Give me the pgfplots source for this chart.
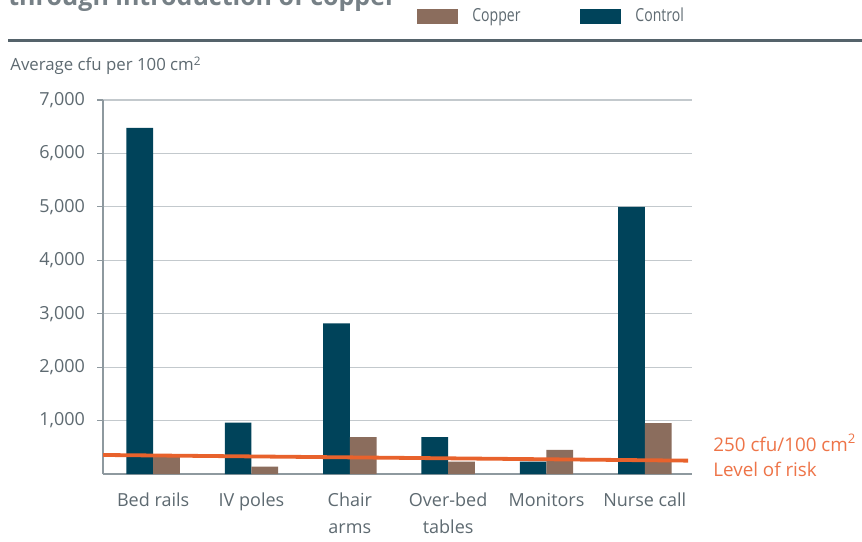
\documentclass[border=0pt]{standalone}
\usepackage{pgfplots}
\pgfplotsset{compat=1.18}
\usepackage{fontspec}
\setmainfont{Open Sans}
\newfontfamily\condfont{Open Sans}[FakeStretch=0.78]
\definecolor{ctrl}{HTML}{00435A}
\definecolor{copper}{HTML}{8B6D5D}
\definecolor{riskline}{HTML}{E8622C}
\definecolor{risktext}{HTML}{EE7448}
\definecolor{gridc}{HTML}{C3C9CD}
\definecolor{axisc}{HTML}{8E999F}
\definecolor{txt}{HTML}{5E6A71}
\definecolor{topline}{HTML}{55636B}
\begin{document}
\begin{tikzpicture}
\fill[white] (0pt,0pt) rectangle (431pt,270.5pt);
\useasboundingbox (0pt,0pt) rectangle (431pt,270.5pt);
\begin{scope}
\clip (0pt,0pt) rectangle (431pt,270.5pt);
\node[anchor=base west, inner sep=0pt, font=\bfseries\fontsize{12.5}{15}\selectfont, text=txt!85] at (4pt,267.5pt) {through introduction of copper};
\end{scope}
\draw[topline, line width=1.4pt] (4pt,250.15pt) -- (431pt,250.15pt);
\node[anchor=base west, inner sep=0pt, font=\fontsize{8.4}{10}\selectfont, text=txt] at (5pt,235pt) {Average cfu per 100 cm\textsuperscript{2}};
\node[anchor=base west, inner sep=0pt, font=\fontsize{9.4}{11}\selectfont, text=risktext] at (356.5pt,45pt) {250 cfu/100 cm\textsuperscript{2}};
\node[anchor=base west, inner sep=0pt, font=\fontsize{9.4}{11}\selectfont, text=risktext] at (356.5pt,32pt) {Level of risk};
\begin{axis}[
  at={(51.5pt,33.5pt)}, anchor=south west,
  scale only axis, width=294.5pt, height=187pt,
  ymin=0, ymax=7000, xmin=-0.51, xmax=5.48,
  axis x line*=bottom, axis y line*=left,
  axis line style={axisc, line width=0.6pt, -},
  ytick={1000,2000,...,7000},
  xtick={0,...,5},
  xticklabels={Bed rails, IV poles, {Chair\\arms}, {Over-bed\\tables}, Monitors, Nurse call},
  xtick style={draw=none},
  ytick style={axisc, line width=0.6pt},
  tick align=outside, major tick length=3pt,
  ymajorgrids, grid style={gridc, line width=0.6pt},
  scaled y ticks=false,
  /pgf/number format/1000 sep={,},
  /pgf/number format/assume math mode=true,
  ticklabel style={font=\fontsize{9}{13.5}\selectfont, text=txt},
  x tick label style={align=center, yshift=-3pt},
  y tick label style={xshift=-2.5pt},
  legend style={at={(axis description cs:0.533,1.223)}, anchor=west, draw=none, fill=none,
    inner sep=0pt, font=\condfont\fontsize{9}{10}\selectfont, text=txt,
    legend columns=2,
    /tikz/every odd column/.append style={column sep=5pt},
    /tikz/every even column/.append style={column sep=28pt}},
  legend image code/.code={\path[#1] (0pt,-3.75pt) rectangle (20.5pt,3.75pt);},
  reverse legend,
]
\addplot[ybar, bar width=13.35pt, bar shift=-6.675pt, fill=ctrl, draw=none]
  coordinates {(0,6480) (1,960) (2,2820) (3,690) (4,230) (5,5000)};
\addlegendentry{Control}
\addplot[ybar, bar width=13.35pt, bar shift=6.675pt, fill=copper, draw=none]
  coordinates {(0,340) (1,140) (2,690) (3,230) (4,450) (5,950)};
\addlegendentry{Copper}
\addplot[sharp plot, riskline, line width=1.9pt, forget plot]
  coordinates {(-0.51,356) (5.44,250)};
\end{axis}
\end{tikzpicture}
\end{document}
